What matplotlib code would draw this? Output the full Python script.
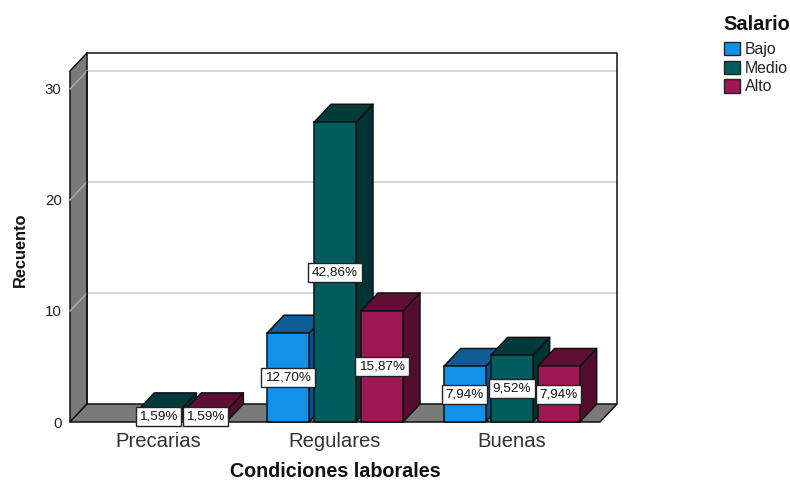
from matplotlib import pyplot as plt
from matplotlib.patches import Polygon, Patch

plt.rcParams['font.family'] = ['Liberation Sans', 'DejaVu Sans']

categories = ["Precarias", "Regulares", "Buenas"]
series = ["Bajo", "Medio", "Alto"]
bajo = [0, 8, 5]
medio = [1, 27, 6]
alto = [1, 10, 5]
total = 63
yticks = [0, 10, 20, 30]

front = ["#1192E8", "#005D5D", "#9F1853"]
top = ["#0F5C96", "#003A3A", "#5E0F33"]
side = ["#0B5088", "#003333", "#540D2D"]
wall = "#7A7A7A"
edge = "#111111"

fig = plt.figure(figsize=(7.9, 4.82), dpi=100)
ax = fig.add_axes([70/790, 1 - 422/482, 530/790, 351/482])
ax.set_xlim(-0.5, 2.5)
ax.set_ylim(0, 31.62)

# depth of the box and the bars, in data units
dx = 17 / (530 / 3)
dy = 18 / 11.1


def poly(pts, fc, ec=edge, lw=1.1, z=2):
    ax.add_patch(Polygon(pts, closed=True, fc=fc, ec=ec, lw=lw, zorder=z,
                         clip_on=False, joinstyle="round"))


x0, x1 = ax.get_xlim()
y1 = ax.get_ylim()[1]

# left wall and floor
poly([(x0, 0), (x0, y1), (x0 + dx, y1 + dy), (x0 + dx, dy)], wall)
poly([(x0, 0), (x1, 0), (x1 + dx, dy), (x0 + dx, dy)], wall)

# gridlines run along the back wall and across the left wall
for t in yticks[1:]:
    ax.plot([x0 + dx, x1 + dx], [t + dy, t + dy], color="#CCCCCC", lw=1.1, zorder=1, clip_on=False)
    ax.plot([x0, x0 + dx], [t, t + dy], color="#A8A8A8", lw=1.1, zorder=2.5, clip_on=False)

# back wall outline
ax.plot([x0 + dx, x1 + dx, x1 + dx], [y1 + dy, y1 + dy, dy], color=edge, lw=1.1, zorder=2, clip_on=False)
ax.plot([x0 + dx, x0 + dx], [dy, y1 + dy], color=edge, lw=1.1, zorder=3)

width = 42 / (530 / 3)
step = 47 / (530 / 3)
z = 4
for c in range(len(categories)):
    for s, vals in enumerate([bajo, medio, alto]):
        v = vals[c]
        if v == 0:
            continue
        left = c + (s - 1) * step - width / 2
        right = left + width
        poly([(right, 0), (right, v), (right + dx, v + dy), (right + dx, dy)], side[s], z=z)
        poly([(left, v), (right, v), (right + dx, v + dy), (left + dx, v + dy)], top[s], z=z)
        ax.bar(left + width / 2, v, width, color=front[s], edgecolor=edge, lw=1.1, zorder=z + 0.1, clip_on=False)
        z += 1

# percent labels go on top of every bar
for c in range(len(categories)):
    for s, vals in enumerate([bajo, medio, alto]):
        v = vals[c]
        if v == 0:
            continue
        pct = f"{v / total * 100:.2f}%".replace(".", ",")
        ax.text(c + (s - 1) * step, v / 2, pct, ha="center", va="center", fontsize=9.7, color="#111111", zorder=50,
                bbox=dict(boxstyle="square,pad=0.27", fc="white", ec="#222222", lw=1.0), clip_on=False)

for sp in ax.spines.values():
    sp.set_visible(False)
ax.patch.set_visible(False)

ax.set_xticks(range(len(categories)))
ax.set_xticklabels(categories, fontsize=14.6, color="#333333")
ax.set_yticks(yticks)
ax.set_yticklabels([str(t) for t in yticks], fontsize=10.8, color="#222222")
ax.tick_params(length=0)
ax.tick_params(axis="x", pad=7)
ax.tick_params(axis="y", pad=6)
ax.set_xlabel("Condiciones laborales", fontsize=14.2, fontweight="bold", color="#111111", labelpad=8)
ax.set_ylabel("Recuento", fontsize=11.8, fontweight="bold", color="#111111", labelpad=12, y=0.49)

handles = [Patch(fc=f, ec="#222222", lw=1, label=n) for f, n in zip(front, series)]
leg = fig.legend(handles=handles, loc="upper left", bbox_to_anchor=(724/790, 1 - 42/482),
                 frameon=False, fontsize=11.4, handlelength=1.0, handleheight=0.92, handletextpad=0.32,
                 labelspacing=0.22, borderpad=0, borderaxespad=0)
for t in leg.get_texts():
    t.set_color("#222222")
fig.text(723/790, 1 - 24/482, "Salario", fontsize=14.4, fontweight="bold", color="#111111", ha="left", va="center")

fig.savefig("out.png", dpi=100)
